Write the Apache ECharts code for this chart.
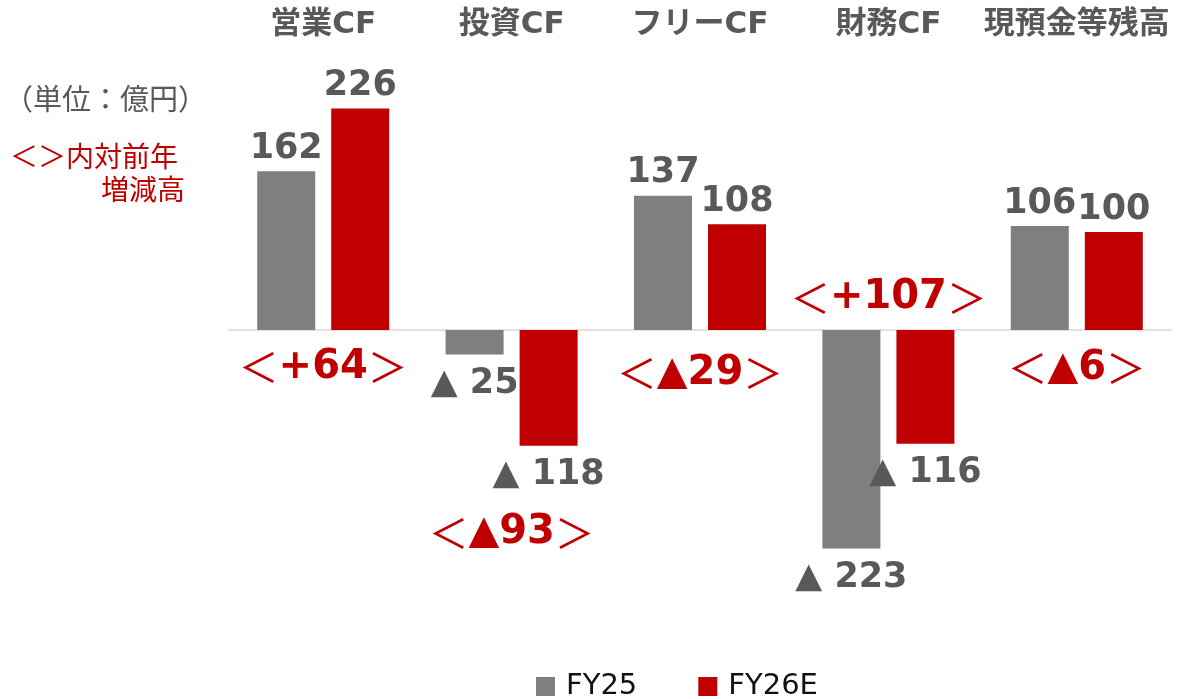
<!DOCTYPE html>
<html>
<head>
<meta charset="utf-8">
<script src="https://cdn.jsdelivr.net/npm/echarts@6/dist/echarts.min.js"></script>
<style>
  html, body { margin: 0; padding: 0; background: #fff; }
  #chart { width: 1181px; height: 699px; }
</style>
</head>
<body>
<div id="chart"></div>
<script>
// データ
const categories = ["営業CF", "投資CF", "フリーCF", "財務CF", "現預金等残高"]
const seriesNames = ["FY25", "FY26E"]
const fy25 = [162, -25, 137, -223, 106]
const fy26e = [226, -118, 108, -116, 100]

// 対前年増減高ラベルの表示位置（値の単位）
const diffLabelY = [-38, -207, -44, 33, -39]

const FONT = "'DejaVu Sans', 'Noto Sans CJK JP', sans-serif"
const CJK = "'Noto Sans CJK JP', sans-serif"
const GRAY = "#7f7f7f"
const RED = "#c00000"
const TEXT = "#595959"

const fmtValue = (v) => (v < 0 ? "▲ " + (-v) : String(v))
const fmtDiff = (d) => "{br|＜}{n|" + (d < 0 ? "▲" + (-d) : "+" + d) + "}{br|＞}"

const diffs = fy26e.map((v, i) => v - fy25[i])

const chart = echarts.init(document.getElementById("chart"))

const valueLabel = {
  show: true,
  fontFamily: FONT,
  fontSize: 35,
  fontWeight: "bold",
  color: TEXT,
  formatter: (p) => fmtValue(p.value)
}

const option = {
  animation: false,
  textStyle: { fontFamily: FONT },
  grid: { left: 229, right: 10, top: 85, bottom: 124, containLabel: false },
  legend: {
    data: seriesNames,
    left: 531,
    top: 667,
    itemWidth: 19,
    itemHeight: 19,
    itemGap: 61,
    icon: "rect",
    textStyle: { fontFamily: FONT, fontSize: 29, color: "#111", padding: [0, 0, 0, 6] }
  },
  xAxis: [
    {
      type: "category",
      data: categories,
      axisLine: { onZero: true, lineStyle: { color: "#d9d9d9", width: 1.5 } },
      axisTick: { show: false },
      axisLabel: { show: false }
    },
    {
      type: "category",
      data: categories,
      position: "top",
      offset: 37,
      axisLine: { show: false },
      axisTick: { show: false },
      axisLabel: {
        interval: 0,
        fontFamily: FONT,
        fontSize: 31,
        fontWeight: "bold",
        color: TEXT,
        margin: 8
      }
    }
  ],
  yAxis: { type: "value", min: -250, max: 250, show: false },
  series: [
    {
      name: seriesNames[0],
      type: "bar",
      barWidth: 58,
      barGap: "27.6%",
      itemStyle: { color: GRAY },
      data: fy25.map((v) => ({
        value: v,
        label: { ...valueLabel, position: v < 0 ? "bottom" : "top", distance: v < 0 ? 12 : 5 }
      }))
    },
    {
      name: seriesNames[1],
      type: "bar",
      barWidth: 58,
      itemStyle: { color: RED },
      data: fy26e.map((v) => ({
        value: v,
        label: { ...valueLabel, position: v < 0 ? "bottom" : "top", distance: v < 0 ? 12 : 5 }
      }))
    },
    {
      name: "diff",
      type: "scatter",
      symbolSize: 0,
      silent: true,
      itemStyle: { opacity: 1, color: RED },
      data: diffs.map((d, i) => [categories[i], diffLabelY[i]]),
      label: {
        show: true,
        position: "inside",
        color: RED,
        formatter: (p) => fmtDiff(diffs[p.dataIndex]),
        rich: {
          br: { fontFamily: CJK, fontSize: 40, fontWeight: "normal", color: RED },
          n: { fontFamily: FONT, fontSize: 40, fontWeight: "bold", color: RED }
        }
      }
    }
  ],
  graphic: [
    {
      type: "text",
      left: 4,
      top: 84,
      style: { text: "（単位：億円）", font: "29px " + CJK, fill: TEXT }
    },
    {
      type: "text",
      left: 10,
      top: 142,
      style: { text: "＜＞内対前年", font: "28px " + CJK, fill: RED }
    },
    {
      type: "text",
      right: 996,
      top: 175,
      style: { text: "増減高", font: "28px " + CJK, fill: RED }
    }
  ]
}

chart.setOption(option)
</script>
</body>
</html>
